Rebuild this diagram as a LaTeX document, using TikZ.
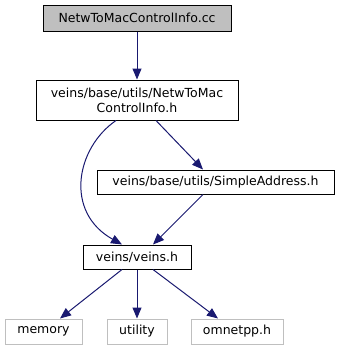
\documentclass[tikz,border=0pt]{standalone}
\usepackage{fontspec}
\setmainfont{DejaVu Sans}
\usepackage[svgnames]{xcolor}
\usetikzlibrary{arrows.meta}

\begin{document}
\begin{tikzpicture}[
  x=1pt, y=-1pt,
  file/.style={draw=black, fill=white, line width=1pt, inner sep=0pt, font=\fontsize{12.5}{15}\selectfont, align=center},
  current/.style={file, fill=black!25},
  sysfile/.style={file, draw=black!25},
  dep/.style={-{Triangle[length=11pt,width=9pt]}, MidnightBlue, line width=1pt}
]
\useasboundingbox (0,0) rectangle (340,351);

% Source file and the headers it pulls in
\node[current, minimum width=188, minimum height=26] (cc) at (137,18) {NetwToMacControlInfo.cc};
\node[file, minimum width=202, minimum height=40] (netw) at (137,100) {veins/base/utils/NetwToMac\\ControlInfo.h};
\node[file, minimum width=237, minimum height=24] (simple) at (215.5,182) {veins/base/utils/SimpleAddress.h};
\node[file, minimum width=108, minimum height=24] (veins) at (137,257) {veins/veins.h};

% System headers
\node[sysfile, minimum width=77, minimum height=25] (memory) at (43.5,331.5) {memory};
\node[sysfile, minimum width=60, minimum height=25] (utility) at (137,331.5) {utility};
\node[sysfile, minimum width=92, minimum height=25] (omnetpp) at (237,331.5) {omnetpp.h};

% Include edges
\draw[dep] (cc) -- (netw);
\draw[dep] ([xshift=-21pt]netw.south) .. controls (76,148) and (64,212) .. ([xshift=-15pt]veins.north);
\draw[dep] ([xshift=19pt]netw.south) -- ([xshift=-12.5pt]simple.north);
\draw[dep] ([xshift=-12.5pt]simple.south) -- ([xshift=16pt]veins.north);
\draw[dep] ([xshift=-15pt]veins.south) -- ([xshift=16.5pt]memory.north);
\draw[dep] (veins) -- (utility);
\draw[dep] ([xshift=16pt]veins.south) -- ([xshift=-19pt]omnetpp.north);
\end{tikzpicture}
\end{document}
